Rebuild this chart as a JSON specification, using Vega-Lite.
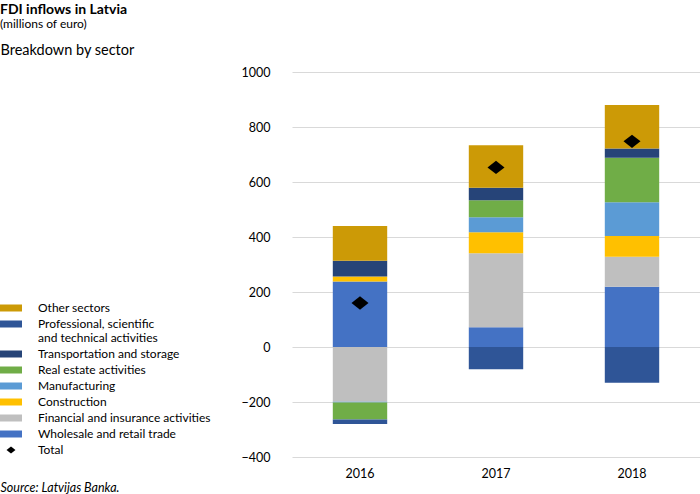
{
  "$schema": "https://vega.github.io/schema/vega-lite/v6.json",
  "autosize": {"type": "none"},
  "width": 408,
  "height": 385,
  "padding": {"left": 292, "top": 72, "right": 0, "bottom": 37},
  "background": "white",
  "config": {
    "font": "Lato",
    "view": {"stroke": null},
    "axis": {"labelFont": "Lato", "titleFont": "Lato", "labelColor": "#000000", "titleColor": "#000000"},
    "legend": {"labelFont": "Lato"},
    "title": {"font": "Lato", "subtitleFont": "Lato"}
  },
  "title": {
    "text": "FDI inflows in Latvia",
    "subtitle": "(millions of euro)",
    "anchor": "start",
    "frame": "group",
    "dx": -292,
    "dy": -12,
    "offset": 0,
    "fontSize": 14,
    "fontWeight": "bold",
    "color": "#000000",
    "subtitleFontSize": 12,
    "subtitleColor": "#000000",
    "subtitlePadding": 2
  },
  "data": {
    "values": [
      {"year": "2016", "sector": "Wholesale and retail trade", "value": 238},
      {"year": "2016", "sector": "Financial and insurance activities", "value": -199},
      {"year": "2016", "sector": "Construction", "value": 18},
      {"year": "2016", "sector": "Manufacturing", "value": -3},
      {"year": "2016", "sector": "Real estate activities", "value": -62},
      {"year": "2016", "sector": "Transportation and storage", "value": 58},
      {"year": "2016", "sector": "Professional, scientific and technical activities", "value": -16},
      {"year": "2016", "sector": "Other sectors", "value": 126},
      {"year": "2016", "sector": "Total", "value": 160},
      {"year": "2017", "sector": "Wholesale and retail trade", "value": 72},
      {"year": "2017", "sector": "Financial and insurance activities", "value": 269},
      {"year": "2017", "sector": "Construction", "value": 76},
      {"year": "2017", "sector": "Manufacturing", "value": 55},
      {"year": "2017", "sector": "Real estate activities", "value": 62},
      {"year": "2017", "sector": "Transportation and storage", "value": 45},
      {"year": "2017", "sector": "Professional, scientific and technical activities", "value": -81},
      {"year": "2017", "sector": "Other sectors", "value": 155},
      {"year": "2017", "sector": "Total", "value": 653},
      {"year": "2018", "sector": "Wholesale and retail trade", "value": 219},
      {"year": "2018", "sector": "Financial and insurance activities", "value": 109},
      {"year": "2018", "sector": "Construction", "value": 76},
      {"year": "2018", "sector": "Manufacturing", "value": 122},
      {"year": "2018", "sector": "Real estate activities", "value": 162},
      {"year": "2018", "sector": "Transportation and storage", "value": 34},
      {"year": "2018", "sector": "Professional, scientific and technical activities", "value": -130},
      {"year": "2018", "sector": "Other sectors", "value": 158},
      {"year": "2018", "sector": "Total", "value": 748}
    ]
  },
  "encoding": {
    "x": {
      "field": "year",
      "type": "nominal",
      "scale": {"paddingInner": 0.6, "paddingOuter": 0.3},
      "axis": {
        "labelAngle": 0,
        "labelFontSize": 12.5,
        "labelPadding": 10,
        "domain": false,
        "ticks": false,
        "title": "Source: Latvijas Banka.",
        "titleFontStyle": "italic",
        "titleFontWeight": "normal",
        "titleFontSize": 12.5,
        "titleAlign": "left",
        "titleAnchor": null,
        "titleBaseline": "middle",
        "titleX": -292,
        "titleY": 30
      }
    },
    "y": {
      "field": "value",
      "type": "quantitative",
      "stack": "zero",
      "scale": {"domain": [-400, 1000], "nice": false, "zero": false},
      "axis": {
        "values": [-400, -200, 0, 200, 400, 600, 800, 1000],
        "format": "d",
        "labelFontSize": 12.5,
        "labelPadding": 22,
        "domain": false,
        "ticks": false,
        "gridColor": "#D9D9D9",
        "gridWidth": 1,
        "title": "Breakdown by sector",
        "titleAngle": 0,
        "titleAlign": "left",
        "titleBaseline": "middle",
        "titleFontSize": 14.5,
        "titleFontWeight": "normal",
        "titleX": -292,
        "titleY": -22
      }
    },
    "color": {
      "field": "sector",
      "type": "nominal",
      "scale": {
        "domain": ["Other sectors", "Professional, scientific and technical activities", "Transportation and storage", "Real estate activities", "Manufacturing", "Construction", "Financial and insurance activities", "Wholesale and retail trade", "Total"],
        "range": ["#CC9A06", "#2F5597", "#264478", "#70AD47", "#5B9BD5", "#FFC000", "#BFBFBF", "#4472C4", "#000000"]
      },
      "legend": {
        "orient": "none",
        "legendX": -288,
        "legendY": 229,
        "title": null,
        "padding": 0,
        "symbolSize": 196,
        "symbolStrokeWidth": 0,
        "symbolOpacity": 1,
        "labelFontSize": 12,
        "labelColor": "#000000",
        "labelOffset": 20,
        "labelLimit": 400,
        "rowPadding": 3,
        "labelExpr": "datum.label === 'Professional, scientific and technical activities' ? ['Professional, scientific', ' and technical activities'] : datum.label"
      }
    },
    "shape": {
      "field": "sector",
      "type": "nominal",
      "scale": {
        "domain": ["Other sectors", "Professional, scientific and technical activities", "Transportation and storage", "Real estate activities", "Manufacturing", "Construction", "Financial and insurance activities", "Wholesale and retail trade", "Total"],
        "range": ["M-1.57,-0.5H1.57V0.5H-1.57Z", "M-1.57,-0.5H1.57V0.5H-1.57Z", "M-1.57,-0.5H1.57V0.5H-1.57Z", "M-1.57,-0.5H1.57V0.5H-1.57Z", "M-1.57,-0.5H1.57V0.5H-1.57Z", "M-1.57,-0.5H1.57V0.5H-1.57Z", "M-1.57,-0.5H1.57V0.5H-1.57Z", "M-1.57,-0.5H1.57V0.5H-1.57Z", "M0,-0.5L0.64,0L0,0.5L-0.64,0Z"]
      },
      "legend": {
        "orient": "none",
        "legendX": -288,
        "legendY": 229,
        "title": null,
        "padding": 0,
        "symbolSize": 196,
        "symbolStrokeWidth": 0,
        "symbolOpacity": 1,
        "labelFontSize": 12,
        "labelColor": "#000000",
        "labelOffset": 20,
        "labelLimit": 400,
        "rowPadding": 3,
        "labelExpr": "datum.label === 'Professional, scientific and technical activities' ? ['Professional, scientific', ' and technical activities'] : datum.label"
      }
    }
  },
  "layer": [
    {
      "transform": [
        {"filter": "datum.sector !== 'Total'"},
        {"calculate": "indexof(['Wholesale and retail trade','Financial and insurance activities','Construction','Manufacturing','Real estate activities','Transportation and storage','Professional, scientific and technical activities','Other sectors'], datum.sector)", "as": "stackOrder"}
      ],
      "mark": {"type": "bar"},
      "encoding": {
        "shape": null,
        "order": {"field": "stackOrder", "type": "quantitative", "sort": "ascending"}
      }
    },
    {
      "transform": [{"filter": "datum.sector === 'Total'"}],
      "mark": {"type": "point", "filled": true, "size": 707, "opacity": 1}
    }
  ]
}
